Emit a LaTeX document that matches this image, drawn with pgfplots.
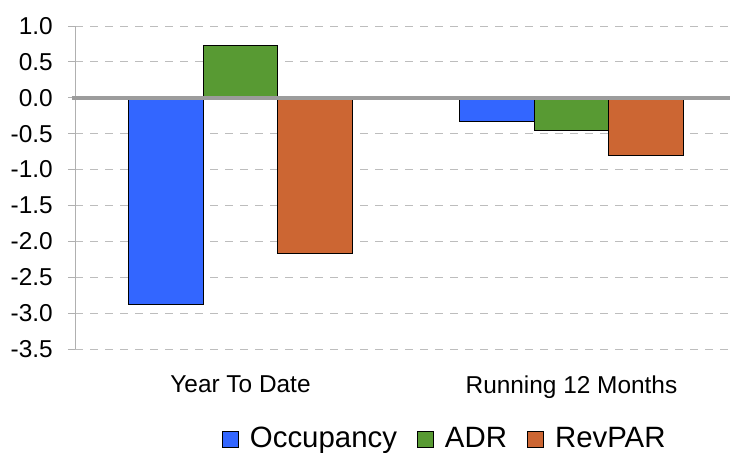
\documentclass[border=0pt]{standalone}
\usepackage{fontspec}
\setmainfont{Liberation Sans}
\usepackage{pgfplots}
\pgfplotsset{compat=1.18}
\definecolor{occ}{HTML}{3366FF}
\definecolor{adr}{HTML}{589A33}
\definecolor{rev}{HTML}{CC6633}
\definecolor{gridc}{HTML}{BDBDBD}
\definecolor{zeroc}{HTML}{9C9C9C}
\begin{document}
\begin{tikzpicture}
\path[use as bounding box] (0bp,0bp) rectangle (730bp,453bp);
\begin{axis}[
  at={(75bp,104bp)}, anchor=south west,
  scale only axis, width=655bp, height=323bp,
  xmin=-0.5, xmax=1.479, ymin=-3.5, ymax=1.0,
  clip=false,
  axis lines*=left,
  x axis line style={draw=none},
  y axis line style={draw=zeroc!80, line width=1bp},
  ytick={-3.5,-3.0,-2.5,-2.0,-1.5,-1.0,-0.5,0,0.5,1.0},
  yticklabel style={/pgf/number format/fixed, /pgf/number format/fixed zerofill, /pgf/number format/precision=1, /pgf/number format/assume math mode=true,
    font=\fontsize{24.5}{25}\selectfont, inner sep=0pt, anchor=east, xshift=-15bp},
  xtick={0,1},
  xticklabels={Year To Date, Running 12 Months},
  xticklabel style={font=\fontsize{24.5}{25}\selectfont, inner sep=0pt, anchor=north, yshift=-20bp},
  tick align=outside,
  major tick length=7bp,
  xtick style={draw=none},
  ytick style={draw=zeroc!80, line width=1bp},
  ymajorgrids,
  major grid style={gridc, dash pattern=on 8bp off 7bp, line width=1bp},
  legend columns=3,
  legend style={draw=none, fill=none, inner sep=0pt, at={(0.563,-0.3106)}, anchor=south,
    font=\fontsize{29.5}{30}\selectfont,
    nodes={inner sep=0pt},
    /tikz/every even column/.append style={column sep=20bp},
    /tikz/every odd column/.append style={column sep=11bp}},
  legend image code/.code={\draw[#1,draw=black,line width=1bp] (0bp,-9bp) rectangle (16bp,7bp);},
]
\addplot[ybar, bar width=0.225, bar shift=-0.225, fill=occ, draw=black, line width=1bp] coordinates {(0,-2.88) (1,-0.33)};
\addlegendentry{Occupancy}
\addplot[ybar, bar width=0.225, bar shift=0, fill=adr, draw=black, line width=1bp] coordinates {(0,0.73) (1,-0.45)};
\addlegendentry{ADR}
\addplot[ybar, bar width=0.225, bar shift=0.225, fill=rev, draw=black, line width=1bp] coordinates {(0,-2.17) (1,-0.80)};
\addlegendentry{RevPAR}
\draw[zeroc, line width=4bp] (axis cs:-0.51,0) -- (axis cs:1.479,0);
\end{axis}
\end{tikzpicture}
\end{document}
